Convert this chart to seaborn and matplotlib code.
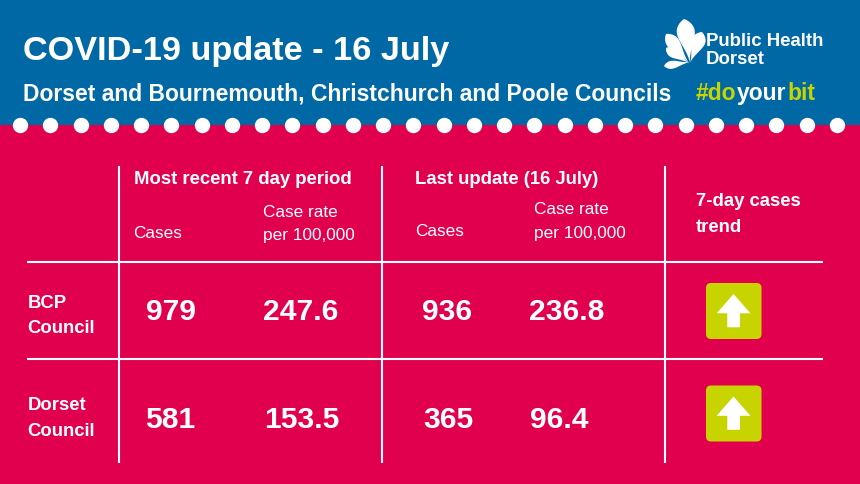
import numpy as np
import pandas as pd
import matplotlib
matplotlib.use("Agg")
import matplotlib.pyplot as plt
from matplotlib.patches import Rectangle, FancyBboxPatch, Polygon
import seaborn as sns

councils = [["BCP", "Council"], ["Dorset", "Council"]]
recent_cases = ["979", "581"]
recent_rates = ["247.6", "153.5"]
last_cases = ["936", "365"]
last_rates = ["236.8", "96.4"]
title = "COVID-19 update - 16 July"
subtitle = "Dorset and Bournemouth, Christchurch and Poole Councils"
head_recent = "Most recent 7 day period"
head_last = "Last update (16 July)"

BLUE = "#0068a5"
RED = "#e1004e"
LIME = "#c8d400"
W = "white"

sns.set_theme(style="white")
plt.rcParams['font.family'] = ['Liberation Sans', 'DejaVu Sans']

fig = plt.figure(figsize=(8.6, 4.84), dpi=100)
ax = fig.add_axes([0, 0, 1, 1])

ax.add_patch(Rectangle((0, 0), 860, 125, color=BLUE, lw=0, zorder=0))
ax.add_patch(Rectangle((0, 125), 860, 359, color=RED, lw=0, zorder=0))

# dots along the band edge
dots = pd.DataFrame({"x": 20 + 30.25 * np.arange(28), "y": 125})
sns.scatterplot(data=dots, x="x", y="y", s=122, color=W, linewidth=0, ax=ax, zorder=2, legend=False)
ax.set_xlim(0, 860)
ax.set_ylim(484, 0)
ax.axis("off")

def T(x, y, s, size, weight="bold", color=W, ha="left"):
    # y is the visual centre of the capitals
    return ax.text(x, y + 0.5 * size, s, fontsize=size, fontweight=weight, color=color,
                   ha=ha, va="baseline", zorder=3)

def petal(base, tip, w):
    b, p = np.array(base, float), np.array(tip, float)
    d = p - b
    n = np.array([-d[1], d[0]]) / np.hypot(*d)
    t = np.linspace(0, 1, 40)
    hw = w * np.sin(np.pi * t ** 2.0) ** 0.8
    pts = np.vstack([b + np.outer(t, d) + np.outer(hw, n),
                     (b + np.outer(t, d) - np.outer(hw, n))[::-1]])
    ax.add_patch(Polygon(pts, closed=True, color=W, lw=0, zorder=3))

T(23, 47.5, title, 24.7)
T(23, 92, subtitle, 16.5)

# hashtag in three colours
T(696, 92, "#do", 16.5, color=LIME)
T(737, 92, "your", 16.5)
T(787, 92, "bit", 16.5, color=LIME)

# logo
for base, tip, w in [((690, 63), (684, 19), 9), ((690, 63), (702, 32), 7),
                     ((689, 63), (666, 34), 6.5), ((689, 63), (666, 48), 5),
                     ((690, 62), (664, 66), 4)]:
    petal(base, tip, w)
T(706, 39.5, "Public Health", 13.4)
T(706, 57, "Dorset", 13.4)

# grid lines
for x in [118.5, 381.5, 664.5]:
    ax.plot([x, x], [166, 463], color=W, lw=1.5, zorder=1, solid_capstyle="butt")
for y in [262, 358.5]:
    ax.plot([27, 823], [y, y], color=W, lw=1.5, zorder=1, solid_capstyle="butt")

# headers
T(133.5, 177, head_recent, 13.3)
T(415, 177, head_last, 13.3)
T(133, 232, "Cases", 12.4, weight="normal")
T(263, 211, "Case rate", 12.4, weight="normal")
T(263, 234, "per 100,000", 12.4, weight="normal")
T(415, 230, "Cases", 12.4, weight="normal")
T(534, 208, "Case rate", 12.4, weight="normal")
T(534, 232, "per 100,000", 12.4, weight="normal")
T(696, 199.5, "7-day cases", 13.3)
T(696, 225.5, "trend", 13.3)

# rows
row_y = [309, 417.5]
label_y = [(301.5, 326.5), (403.5, 429.5)]
box_y = [311, 413.5]
offs = [(171, 301, 447, 567), (170, 302, 448, 559)]
for i in range(2):
    T(27.5, label_y[i][0], councils[i][0], 13.3)
    T(27.5, label_y[i][1], councils[i][1], 13.3)
    y = row_y[i]
    for x, s in zip(offs[i], [recent_cases[i], recent_rates[i], last_cases[i], last_rates[i]]):
        T(x, y, s, 21.6, ha="center")
    cy = box_y[i]
    ax.add_patch(FancyBboxPatch((710, cy - 24), 47.5, 48, boxstyle="round,pad=4,rounding_size=5",
                                color=LIME, lw=0, zorder=2))
    ax.add_patch(Polygon([(733.5, cy - 17), (750.5, cy + 2.3), (740, cy + 2.3), (740, cy + 16.3),
                          (727.3, cy + 16.3), (727.3, cy + 2.3), (716.7, cy + 2.3)], closed=True,
                         color=W, lw=0, zorder=3))

fig.savefig("out.png", dpi=100, facecolor=RED)
